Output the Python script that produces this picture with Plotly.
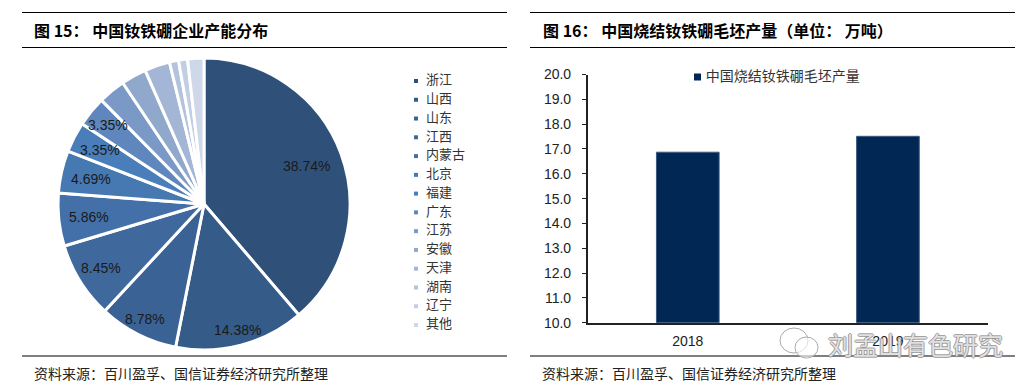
import plotly.graph_objects as go

W, H = 1034, 389

provinces = ["浙江", "山西", "山东", "江西", "内蒙古", "北京", "福建", "广东", "江苏", "安徽", "天津", "湖南", "辽宁", "其他"]
shares = [38.74, 14.38, 8.78, 8.45, 5.86, 4.69, 3.35, 3.35, 3.0, 2.8, 2.8, 1.0, 1.0, 1.8]
share_labels = ["38.74%", "14.38%", "8.78%", "8.45%", "5.86%", "4.69%", "3.35%", "3.35%"]
pie_colors = ["#2f5179", "#355b88", "#3a6294", "#3f689c", "#4370a8", "#4678b2", "#4a7ebb", "#5f87be",
              "#7b99c6", "#91a8cd", "#a3b6d6", "#b3c3dd", "#c2cee4", "#cfd8e9"]

years = ["2018", "2019"]
output = [16.87, 17.51]
bar_name = "中国烧结钕铁硼毛坯产量"
y_ticks = [10, 11, 12, 13, 14, 15, 16, 17, 18, 19, 20]

title_left = "图 15\uff1a 中国钕铁硼企业产能分布"
title_right = "图 16\uff1a 中国烧结钕铁硼毛坯产量\uff08单位\uff1a 万吨\uff09"
source = "资料来源\uff1a百川盈孚、国信证券经济研究所整理"
watermark = "刘孟山有色研究"

CJK = "Noto Sans CJK SC"
LAT = "Liberation Sans"

# pixel anchors of the pie's percentage labels, in the order of share_labels
label_anchor = [(306, 166), (237, 330), (145, 319), (101, 268), (89, 217), (91, 179), (99.5, 150), (108, 125)]


def px(x):
    return x / W


def py(y):
    return 1 - y / H


fig = go.Figure()

fig.add_trace(go.Pie(
    labels=provinces, values=shares, textinfo="none",
    sort=False, direction="clockwise", rotation=0,
    marker=dict(colors=pie_colors, line=dict(color="white", width=3)),
    domain=dict(x=[px(58), px(350)], y=[py(350), py(58)]),
    showlegend=False, hoverinfo="label+percent",
))

# pie key, drawn on its own hidden axes
fig.add_trace(go.Scatter(
    x=[0] * len(provinces), y=list(range(len(provinces))),
    mode="markers+text", text=["\u2002" + p for p in provinces], textposition="middle right",
    marker=dict(symbol="square", size=4, color=pie_colors),
    textfont=dict(family=CJK, size=13, color="#333333"),
    xaxis="x3", yaxis="y3", showlegend=False, cliponaxis=False,
))

fig.add_trace(go.Bar(
    x=years, y=output, name=bar_name, width=0.313,
    marker=dict(color="#012855", line=dict(color="#3d5a7e", width=1)),
    showlegend=False,
))

# bar key, drawn on its own hidden axes
fig.add_trace(go.Scatter(
    x=[0], y=[0], mode="markers+text", text=["\u2009" + bar_name], textposition="middle right",
    marker=dict(symbol="square", size=7, color="#012855"),
    textfont=dict(family=CJK, size=14, color="#333333"),
    xaxis="x4", yaxis="y4", showlegend=False, cliponaxis=False,
))

hidden = dict(visible=False, fixedrange=True)
text_base = dict(xref="paper", yref="paper", yanchor="middle", showarrow=False)
annotations = [
    dict(text=f"<b>{title_left}</b>", x=px(32), y=py(30), xanchor="left",
         font=dict(family=CJK, size=16, color="black"), **text_base),
    dict(text=f"<b>{title_right}</b>", x=px(541), y=py(30), xanchor="left",
         font=dict(family=CJK, size=16, color="black"), **text_base),
    dict(text=source, x=px(32), y=py(373), xanchor="left",
         font=dict(family=CJK, size=14, color="#222222"), **text_base),
    dict(text=source, x=px(540), y=py(373), xanchor="left",
         font=dict(family=CJK, size=14, color="#222222"), **text_base),
    dict(text=watermark, x=px(826), y=py(344), xanchor="left",
         font=dict(family=CJK, size=25, color="rgba(255,255,255,0.75)",
                   shadow="-1px 0 #888, 1px 0 #888, 0 -1px #888, 0 1px #888"), **text_base),
]
annotations += [
    dict(text=t, x=px(a), y=py(b), xanchor="center", font=dict(family=LAT, size=14, color="#1a1a1a"), **text_base)
    for t, (a, b) in zip(share_labels, label_anchor)
]

fig.update_layout(
    width=W, height=H, autosize=False,
    margin=dict(l=0, r=0, t=0, b=0, autoexpand=False),
    paper_bgcolor="white", plot_bgcolor="white",
    xaxis=dict(
        domain=[px(587.7), px(988)], type="category", range=[-0.5, 1.5],
        showline=True, linecolor="#222222", linewidth=1.5, ticks="", showgrid=False, automargin=False,
        ticklabelstandoff=5,
        tickfont=dict(family=LAT, size=14, color="#222222"), anchor="y", fixedrange=True,
    ),
    yaxis=dict(
        domain=[py(322.7), py(74.5)], range=[10, 20], tickvals=y_ticks, ticktext=[f"{v:.1f}" for v in y_ticks],
        showline=True, linecolor="#222222", linewidth=1.5, ticks="outside", ticklen=4, tickcolor="#222222",
        showgrid=False, zeroline=False, tickfont=dict(family=LAT, size=14, color="#222222"), automargin=False,
        ticklabelstandoff=8,
        anchor="x", fixedrange=True,
    ),
    xaxis3=dict(domain=[px(406), px(426)], range=[-1, 1], anchor="y3", **hidden),
    yaxis3=dict(domain=[py(325), py(81)], range=[13, 0], anchor="x3", **hidden),
    xaxis4=dict(domain=[px(690.5), px(704.5)], range=[-1, 1], anchor="y4", **hidden),
    yaxis4=dict(domain=[py(83), py(71)], range=[-1, 1], anchor="x4", **hidden),
    shapes=[
        dict(type="line", xref="paper", yref="paper", x0=px(a), x1=px(b), y0=py(y), y1=py(y),
             line=dict(color="black", width=1.2))
        for a, b in [(22, 507), (530, 1015)] for y in (12.5, 47.5, 356)
    ] + [
        dict(type="circle", xref="paper", yref="paper", x0=px(x0), x1=px(x1), y0=py(y1), y1=py(y0),
             line=dict(color="#aaaaaa", width=1), fillcolor="rgba(255,255,255,0.6)")
        for x0, x1, y0, y1 in [(780, 808, 328, 353), (795, 818, 337, 358)]
    ],
    annotations=annotations,
)

fig.write_html("out.html", config=dict(displayModeBar=False),
               post_script="document.body.style.margin='0';")
